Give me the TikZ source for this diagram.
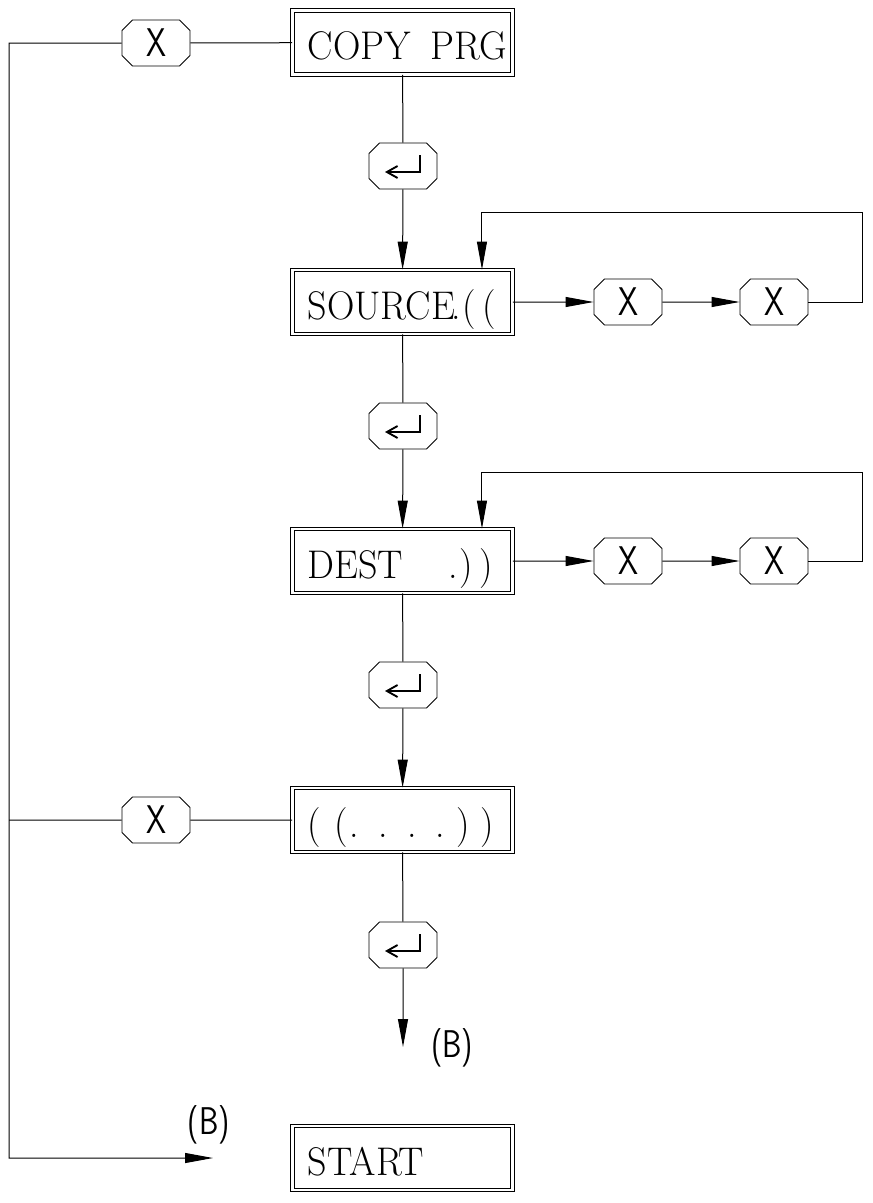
\documentclass[tikz,border=0pt]{standalone}
\usepackage{fontspec}
\usetikzlibrary{arrows.meta,shapes.misc,calc}
\newfontfamily\boxfont{Latin Modern Roman}[FakeStretch=0.95]
\newfontfamily\keyfont{Latin Modern Sans}[FakeStretch=0.8]
\tikzset{
  dispbox/.style={draw, double, double distance=2.2pt, line width=0.6pt,
    minimum width=165pt, minimum height=48pt, inner xsep=4pt, inner ysep=3pt,
    text width=142pt, align=left, text height=26pt, text depth=0pt,
    font=\boxfont\fontsize{30}{34}\selectfont},
  keybox/.style={draw, chamfered rectangle, chamfered rectangle xsep=5pt,
    line width=0.6pt, minimum width=51pt, minimum height=34.5pt, inner sep=0pt,
    fill=white, font=\keyfont\fontsize{30}{32}\selectfont},
  entersym/.style={line width=1.4pt, {Straight Barb[length=8pt,width=9pt]}-},
  flowarrow/.style={-{Triangle[length=21pt,width=7.5pt]}},
  lbl/.style={font=\keyfont\fontsize{29}{32}\selectfont}
}
\begin{document}
\begin{tikzpicture}[x=0.75pt,y=-0.75pt,line width=0.75pt]
  \useasboundingbox (0,0) rectangle (873,1203);
  % Display boxes
  \node[dispbox] (copy)  at (402.5,42.5) {\mbox{COPY\hspace{15pt}PRG}};
  \node[dispbox] (src)   at (402.5,302)  {\mbox{SOURCE\kern-2.5pt.\kern1pt(\hspace{5pt}(}};
  \node[dispbox] (dest)  at (402.5,561)  {\mbox{DEST\hspace{34pt}.\kern1pt)\hspace{5pt})}};
  \node[dispbox] (run)   at (402.5,820)  {\mbox{(\hspace{10pt}(\hspace{1pt}.\hspace{14.5pt}.\hspace{14.5pt}.\hspace{14.5pt}.\hspace{8pt})\hspace{8pt})}};
  \node[dispbox] (start) at (402.5,1158) {START};
  % Enter keys
  \foreach \n/\y in {k1/166,k2/426,k3/685,k4/945}{
    \node[keybox] (\n) at (403,\y) {\phantom{X}};
    \draw[entersym] ($(\n)+(-18,6)$) -| ($(\n)+(17,-11)$);
  }
  % X keys
  \node[keybox] (xa)  at (156,43)  {X};
  \node[keybox] (xb)  at (156,820) {X};
  \node[keybox] (sx1) at (628,302) {X};
  \node[keybox] (sx2) at (774,302) {X};
  \node[keybox] (dx1) at (628,561) {X};
  \node[keybox] (dx2) at (774,561) {X};
  % Labels
  \node[lbl] (lb1) at (452,1048) {(B)};
  \node[lbl] (lb2) at (209,1125) {(B)};
  % Free ends
  \coordinate (lt)  at (9,43);
  \coordinate (lb)  at (9,1158);
  \coordinate (bl)  at (213,1158);
  \coordinate (be)  at (403,1047);
  % Main flow
  \draw (copy) -- (k1);
  \draw[flowarrow] (k1) -- (src);
  \draw (src) -- (k2);
  \draw[flowarrow] (k2) -- (dest);
  \draw (dest) -- (k3);
  \draw[flowarrow] (k3) -- (run);
  \draw (run) -- (k4);
  \draw[flowarrow] (k4) -- (be);
  % Side loops
  \draw[flowarrow] (src) -- (sx1);
  \draw[flowarrow] (sx1) -- (sx2);
  \draw[flowarrow] (sx2.east) -| (862,212) -| ([xshift=59.6pt]src.north);
  \draw[flowarrow] (dest) -- (dx1);
  \draw[flowarrow] (dx1) -- (dx2);
  \draw[flowarrow] (dx2.east) -| (862,472) -| ([xshift=59.6pt]dest.north);
  % Escape line
  \draw (copy) -- (xa);
  \draw (run) -- (xb);
  \draw[flowarrow] (xa) -- (lt) -- (lb) -- (bl);
  \draw (xb) -- (xb -| lt);
\end{tikzpicture}
\end{document}
